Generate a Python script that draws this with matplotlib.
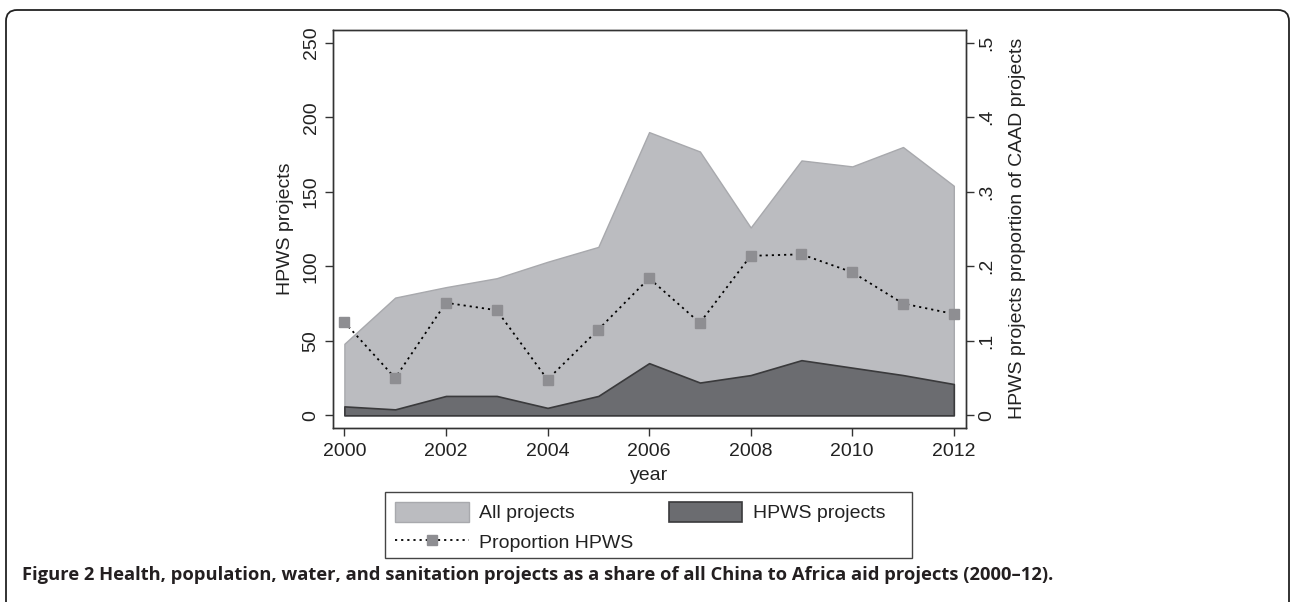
import matplotlib
matplotlib.use("Agg")
import matplotlib.pyplot as plt
from matplotlib.lines import Line2D
from matplotlib.patches import Patch, FancyBboxPatch, Rectangle
from matplotlib.transforms import IdentityTransform

# ---- data ----
years = [2000, 2001, 2002, 2003, 2004, 2005, 2006, 2007, 2008, 2009, 2010, 2011, 2012]
all_projects = [48, 79, 86, 92, 103, 113, 190, 177, 126, 171, 167, 180, 154]
hpws_projects = [6, 4, 13, 13, 5, 13, 35, 22, 27, 37, 32, 27, 21]
proportion_hpws = [0.125, 0.050, 0.151, 0.141, 0.048, 0.115, 0.184, 0.124,
                   0.214, 0.216, 0.192, 0.150, 0.136]

left_ticks = [0, 50, 100, 150, 200, 250]
right_ticks = [0, 0.1, 0.2, 0.3, 0.4, 0.5]
right_ticklabels = ["0", ".1", ".2", ".3", ".4", ".5"]
x_ticks = [2000, 2002, 2004, 2006, 2008, 2010, 2012]

caption = ("Figure 2 Health, population, water, and sanitation projects as a share "
           "of all China to Africa aid projects (2000\u201312).")

# ---- style ----
plt.rcParams['font.family'] = ['Liberation Sans', 'DejaVu Sans']
FS = 14
C_ALL = "#bbbcc0"
C_ALL_EDGE = "#a8a9ad"
C_HP = "#6b6c70"
C_HP_EDGE = "#3a3a3c"
C_MARK = "#8e8e92"
C_AX = "#333333"
C_TXT = "#222222"

W, H = 1292, 602
fig = plt.figure(figsize=(W / 100, H / 100), dpi=100)
fig.patch.set_facecolor("white")

l, r, t, b = 332.7, 966, 30, 427.7
ax = fig.add_axes([l / W, 1 - b / H, (r - l) / W, (b - t) / H])

ax.fill_between(years, 0, all_projects, facecolor=C_ALL, edgecolor=C_ALL_EDGE,
                linewidth=1.0, zorder=1)
ax.fill_between(years, 0, hpws_projects, facecolor=C_HP, edgecolor=C_HP_EDGE,
                linewidth=1.2, zorder=2)

ax.set_xlim(1999.77, 2012.24)
ax.set_ylim(-8.3, 258.5)
ax.set_xticks(x_ticks)
ax.set_yticks(left_ticks)
ax.tick_params(axis='both', direction='out', length=6, width=1.0, color=C_AX,
               labelsize=FS, labelcolor=C_TXT)
ax.tick_params(axis='y', pad=3.5)
ax.tick_params(axis='x', pad=5)
for lab in ax.get_yticklabels():
    lab.set_rotation(90)
    lab.set_va('center')
ax.set_xlabel("year", fontsize=FS, color=C_TXT, labelpad=5)
ax.set_ylabel("HPWS projects", fontsize=FS, color=C_TXT, labelpad=6)
for s in ax.spines.values():
    s.set_color(C_AX)
    s.set_linewidth(1.0)

ax2 = ax.twinx()
ax2.set_ylim(-8.3 / 500, 258.5 / 500)
ax2.set_yticks(right_ticks)
ax2.set_yticklabels(right_ticklabels)
ax2.plot(years, proportion_hpws, color="black", linestyle=(0, (1.2, 2.2)),
         linewidth=1.3, marker='s', markersize=7, markerfacecolor=C_MARK,
         markeredgecolor=C_MARK, zorder=3)
ax2.tick_params(axis='y', direction='out', length=6, width=1.0, color=C_AX,
                labelsize=FS, labelcolor=C_TXT, pad=3)
for lab in ax2.get_yticklabels():
    lab.set_rotation(90)
    lab.set_va('center')
ax2.set_ylabel("HPWS projects proportion of CAAD projects", fontsize=FS,
               color=C_TXT, labelpad=10)
for s in ax2.spines.values():
    s.set_color(C_AX)
    s.set_linewidth(1.0)

# ---- legend ----
h_all = Patch(facecolor=C_ALL, edgecolor=C_ALL_EDGE, linewidth=1.0)
h_hp = Patch(facecolor=C_HP, edgecolor=C_HP_EDGE, linewidth=1.2)
h_prop = Line2D([], [], color="black", linestyle=(0, (1.2, 2.2)), linewidth=1.3,
                marker='s', markersize=7, markerfacecolor=C_MARK,
                markeredgecolor=C_MARK)
leg = fig.legend([h_all, h_prop, h_hp],
                 ["All projects", "Proportion HPWS", "HPWS projects"],
                 ncol=2, loc='upper left',
                 bbox_to_anchor=(385 / W, 1 - 492 / H),
                 fontsize=FS, frameon=False,
                 handlelength=3.8, handleheight=1.2, handletextpad=0.55,
                 columnspacing=1.8, labelspacing=0.47, borderpad=0.5,
                 borderaxespad=0, numpoints=1)
for txt in leg.get_texts():
    txt.set_color(C_TXT)
# legend frame (Stata-style box with extra room on the right)
fig.add_artist(Rectangle((385, H - 558), 912 - 385, 558 - 492,
                         transform=IdentityTransform(), facecolor='none',
                         edgecolor="#444444", linewidth=1.0, clip_on=False))

# ---- caption ----
fig.text(22 / W, 1 - 575 / H, caption, fontsize=13.2, fontweight='bold',
         family=['Open Sans', 'DejaVu Sans'], color="#231f20",
         ha='left', va='center')

# ---- outer rounded frame ----
frame = FancyBboxPatch((6, -30), 1283, 622,
                       boxstyle="round,pad=0,rounding_size=11",
                       transform=IdentityTransform(), facecolor='none',
                       edgecolor="#222222", linewidth=1.3, clip_on=False)
fig.add_artist(frame)

fig.savefig("out.png", dpi=100)
